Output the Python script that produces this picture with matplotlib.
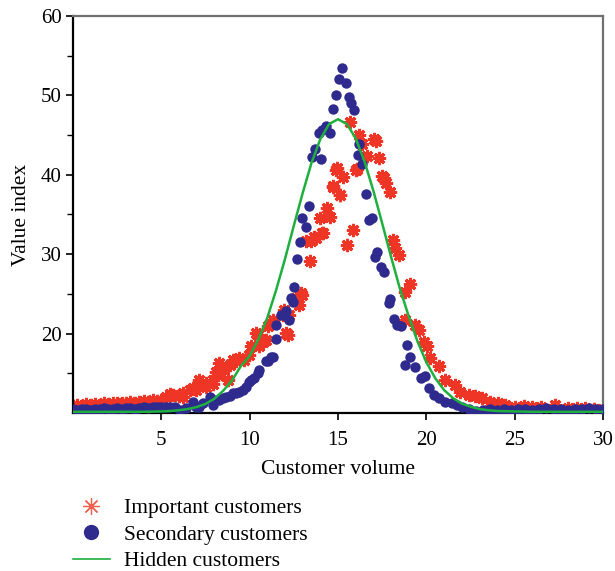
import matplotlib
matplotlib.use("Agg")
import matplotlib.pyplot as plt
from matplotlib.lines import Line2D

# ---------------- data ----------------
imp_x = [0.0, 0.25, 0.5, 0.75, 1.0, 1.25, 1.5, 1.75, 2.0, 2.25, 2.5, 2.75, 3.0, 3.25,
         3.5, 3.75, 4.0, 4.25, 4.5, 4.75, 5.0, 5.28, 5.5, 5.66, 6.0, 6.22, 6.22, 6.6,
         6.79, 6.98, 7.16, 7.16, 7.54, 7.54, 7.91, 7.91, 8.1, 8.2, 8.29, 8.48, 8.57,
         8.76, 8.86, 9.04, 9.23, 9.42, 9.7, 9.98, 10.08, 10.36, 10.45, 10.55, 10.73,
         10.92, 11.02, 11.3, 11.86, 11.96, 12.05, 12.15, 12.24, 12.65, 12.8, 12.9,
         12.99, 13.18, 13.4, 13.46, 13.65, 13.78, 13.99, 14.08, 14.16, 14.36, 14.53,
         14.72, 14.74, 14.87, 14.93, 15.1, 15.12, 15.28, 15.49, 15.66, 15.87, 16.0,
         16.06, 16.19, 16.37, 16.66, 17.05, 17.16, 17.3, 17.5, 17.6, 17.74, 17.93,
         18.1, 18.25, 18.48, 18.78, 18.82, 19.05, 19.38, 19.57, 19.85, 20.04, 20.23,
         20.7, 21.08, 21.64, 21.92, 22.39, 22.77, 23.14, 23.61, 24.08, 24.46, 25.02,
         25.5, 26.0, 26.5, 27.3, 28.0, 28.5, 29.0, 29.5, 30.0]
imp_y = [10.9, 11.0, 10.9, 11.1, 11.0, 11.1, 11.0, 11.2, 11.1, 11.2, 11.3, 11.2, 11.3, 11.4,
         11.3, 11.4, 11.5, 11.4, 11.6, 11.5, 11.7, 12.05, 12.4, 12.3, 12.2, 12.05, 12.5, 12.9,
         13.2, 12.9, 14.2, 13.4, 13.3, 13.8, 13.7, 14.2, 15.2, 14.8, 16.3, 15.6, 15.6,
         14.2, 16.05, 16.7, 16.5, 16.9, 16.7, 17.3, 18.45, 20.05, 19.8, 18.4, 18.95,
         19.2, 20.9, 21.7, 22.4, 23.0, 20.05, 19.8, 22.4, 24.5, 23.6, 25.1,
         24.9, 31.7, 29.2, 31.6, 32.15, 32.1, 34.5, 32.7, 32.65, 35.8, 34.7,
         38.6, 38.5, 40.6, 40.9, 37.5, 37.5, 39.7, 31.2, 46.6, 33.0, 40.6,
         40.7, 45.05, 43.9, 42.4, 44.5, 44.2, 42.1, 39.8, 39.6, 39.0, 37.8,
         31.8, 30.8, 29.9, 25.3, 21.7, 26.2, 21.1, 20.5, 19.0, 18.4, 16.9,
         15.9, 14.2, 13.5, 12.7, 12.3, 12.1, 11.85, 11.4, 11.2, 11.0, 10.8,
         10.9, 10.7, 10.8, 11.0, 10.6, 10.6, 10.6, 10.5, 10.5]

sec_x = [0.0, 0.25, 0.5, 0.75, 1.0, 1.25, 1.5, 1.75, 2.0, 2.25, 2.5, 2.75, 3.0, 3.25,
         3.5, 3.75, 4.0, 4.25, 4.5, 4.75, 5.0, 5.25, 5.5, 5.75, 6.03, 6.41, 6.79, 6.98,
         7.16, 7.35, 7.73, 7.91, 8.1, 8.29, 8.48, 8.67, 8.86, 9.04, 9.23, 9.42, 9.6,
         9.8, 9.98, 10.08, 10.27, 10.45, 10.55, 10.92, 11.02, 11.2, 11.3, 11.49, 11.49,
         11.77, 11.96, 12.05, 12.24, 12.35, 12.43, 12.52, 12.69, 12.84, 12.99, 13.18,
         13.37, 13.52, 13.67, 13.9, 14.04, 14.1, 14.31, 14.53, 14.72, 14.9, 15.06, 15.21,
         15.44, 15.6, 15.74, 15.93, 16.11, 16.19, 16.34, 16.56, 16.75, 16.94, 17.09,
         17.22, 17.41, 17.6, 17.88, 17.97, 18.16, 18.35, 18.54, 18.82, 18.91, 19.1,
         19.38, 19.67, 19.95, 20.14, 20.42, 20.7, 21.08, 21.45, 21.73, 22.0, 22.4,
         22.8, 23.2, 23.6, 24.0, 24.4, 24.8, 25.2, 25.6, 26.0, 26.4, 26.8, 27.2, 27.6,
         28.0, 28.4, 28.8, 29.2, 29.6, 30.0]
sec_y = [10.5, 10.4, 10.5, 10.5, 10.4, 10.5, 10.5, 10.6, 10.5, 10.5, 10.6, 10.5, 10.6, 10.6,
         10.5, 10.6, 10.7, 10.6, 10.7, 10.7, 10.8, 10.7, 10.8, 10.7, 10.4, 10.6, 11.4, 10.8,
         10.8, 11.2, 12.05, 11.0, 11.6, 11.6, 11.85, 12.05, 12.1, 12.5, 12.5, 12.7, 12.9,
         13.3, 13.95, 14.2, 14.4, 15.0, 15.4, 16.5, 16.5, 17.1, 17.1, 19.3, 21.1,
         22.4, 22.4, 22.8, 21.7, 24.5, 24.0, 25.9, 29.4, 31.5, 34.6, 33.4,
         36.1, 42.3, 43.3, 45.3, 42.0, 45.6, 46.2, 45.3, 48.3, 50.1, 52.1, 53.5,
         51.6, 49.8, 49.05, 48.1, 42.5, 43.9, 41.3, 37.6, 34.3, 34.55, 29.6,
         30.3, 28.45, 27.7, 23.9, 24.3, 21.9, 21.1, 20.9, 16.05, 18.6, 17.1,
         15.8, 14.4, 14.6, 13.1, 12.3, 11.85, 11.4, 11.2, 11.0, 10.8, 10.5,
         10.3, 10.4, 10.5, 10.4, 10.5, 10.4, 10.5, 10.5, 10.4, 10.5, 10.6, 10.5, 10.5,
         10.4, 10.5, 10.5, 10.6, 10.5, 10.5]

hid_x = [0.0, 1.0, 2.0, 3.0, 4.0, 5.0, 5.5, 6.0, 6.5, 7.0, 7.5, 8.0, 8.5, 9.0, 9.5,
         10.0, 10.5, 11.0, 11.5, 12.0, 12.5, 13.0, 13.5, 14.0, 14.5, 15.0, 15.5, 16.0,
         16.5, 17.0, 17.5, 18.0, 18.5, 19.0, 19.5, 20.0, 20.5, 21.0, 21.5, 22.0, 22.5,
         23.0, 23.5, 24.0, 25.0, 26.0, 27.0, 28.0, 29.0, 30.0]
hid_y = [10.15, 10.15, 10.15, 10.15, 10.15, 10.2, 10.25, 10.35, 10.5, 10.75, 11.15, 11.8,
         12.8, 14.1, 15.9, 17.2, 19.3, 22.0, 25.5, 29.4, 33.6, 37.7, 41.5, 44.5, 46.4,
         47.0, 46.4, 44.6, 41.7, 38.0, 33.9, 29.7, 25.7, 22.2, 19.0, 16.4, 14.4, 12.9,
         11.9, 11.2, 10.8, 10.5, 10.35, 10.25, 10.2, 10.15, 10.15, 10.15, 10.15, 10.15]

x_ticks = [5, 10, 15, 20, 25, 30]
y_ticks = [20, 30, 40, 50, 60]
y_minor = [15, 25, 35, 45, 55]

RED = "#EE3526"
BLUE = "#2E2A8E"
GREEN = "#1FAF3E"

plt.rcParams['font.family'] = ['Liberation Serif', 'DejaVu Serif']

fig = plt.figure(figsize=(6.15, 5.71), dpi=100)
ax = fig.add_axes([73/615, 1 - 413/571, 530/615, 397/571])

ast = (8, 2, 0)
ax.plot(imp_x, imp_y, linestyle='none', marker=ast, markersize=9.5, markeredgewidth=2.2,
        color=RED, zorder=2)
ax.plot(sec_x, sec_y, linestyle='none', marker='o', markersize=7.5, color=BLUE,
        markeredgewidth=0, zorder=3)
ax.plot(hid_x, hid_y, color=GREEN, linewidth=1.8, zorder=4)

ax.set_xlim(0, 30)
ax.set_ylim(10, 60)
ax.set_xticks(x_ticks)
ax.set_yticks(y_ticks)
ax.set_yticks(y_minor, minor=True)
ax.tick_params(axis='both', which='major', direction='out', length=5, width=1.2,
               labelsize=15, color='black')
ax.tick_params(axis='y', which='minor', direction='out', length=4, width=1.0)
ax.tick_params(axis='x', pad=8)
ax.tick_params(axis='y', pad=3)

for s in ['left', 'bottom']:
    ax.spines[s].set_color('black')
    ax.spines[s].set_linewidth(1.6)
for s in ['top', 'right']:
    ax.spines[s].set_color('#707070')
    ax.spines[s].set_linewidth(1.6)

ax.set_xlabel('Customer volume', fontsize=15.5, labelpad=7)
ax.set_ylabel('Value index', fontsize=15.5, labelpad=7)

handles = [
    Line2D([], [], linestyle='none', marker=ast, markersize=12, markeredgewidth=0.9,
           color='#F0604F'),
    Line2D([], [], linestyle='none', marker='o', markersize=11, color=BLUE,
           markeredgewidth=0),
    Line2D([], [], color=GREEN, linewidth=1.2),
]
labels = ['Important customers', 'Secondary customers', 'Hidden customers']
fig.legend(handles, labels, loc='upper left', bbox_to_anchor=(73/615, 1 - 498/571),
           frameon=False, fontsize=15.5, handlelength=1.7, handletextpad=0.65,
           labelspacing=0.3, borderpad=0, borderaxespad=0)

fig.savefig('out.png', dpi=100)
